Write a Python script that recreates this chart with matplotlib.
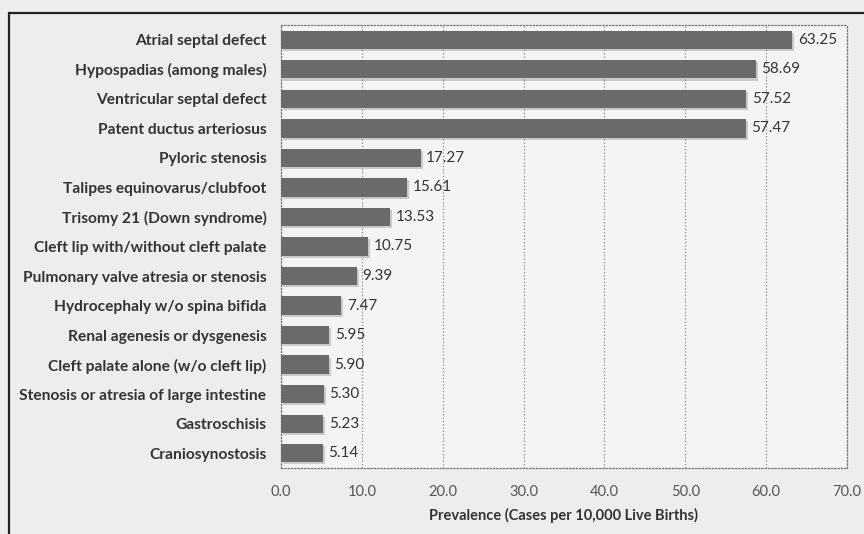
import matplotlib.pyplot as plt
import matplotlib.patheffects as pe
from matplotlib.patches import Rectangle

plt.rcParams['font.family'] = ['Lato', 'DejaVu Sans']

defects = [
    "Atrial septal defect",
    "Hypospadias (among males)",
    "Ventricular septal defect",
    "Patent ductus arteriosus",
    "Pyloric stenosis",
    "Talipes equinovarus/clubfoot",
    "Trisomy 21 (Down syndrome)",
    "Cleft lip with/without cleft palate",
    "Pulmonary valve atresia or stenosis",
    "Hydrocephaly w/o spina bifida",
    "Renal agenesis or dysgenesis",
    "Cleft palate alone (w/o cleft lip)",
    "Stenosis or atresia of large intestine",
    "Gastroschisis",
    "Craniosynostosis",
]
prevalence = [63.25, 58.69, 57.52, 57.47, 17.27, 15.61, 13.53, 10.75,
              9.39, 7.47, 5.95, 5.90, 5.30, 5.23, 5.14]
xticks = [0, 10, 20, 30, 40, 50, 60, 70]

fig = plt.figure(figsize=(8.64, 5.34), dpi=100, facecolor='#ededed')
ax = fig.add_axes([0.3252, 0.1236, 0.6551, 0.8296])
ax.set_facecolor('#f4f4f4')

# outer frame (only left and top edges visible in the scan)
fig.patches.append(Rectangle((9 / 864, -0.05), 1.1, 1 - 13 / 534 + 0.05,
                             transform=fig.transFigure, fill=False,
                             edgecolor='#222222', linewidth=1.6))

ypos = list(range(len(defects)))
bars = ax.barh(ypos, prevalence, height=0.62, color='#6a6a6a', zorder=3)
for b in bars:
    b.set_path_effects([pe.SimplePatchShadow(offset=(1.5, -1.5),
                                             shadow_rgbFace='#7a7a7a', alpha=0.35),
                        pe.Normal()])

for y, v in zip(ypos, prevalence):
    ax.annotate(f"{v:.2f}", (v, y), xytext=(4, 0), textcoords='offset points',
                va='center', ha='left', fontsize=11, color='#333333')

ax.set_xlim(0, 70)
ax.set_ylim(len(defects) - 0.5, -0.5)
ax.set_xticks(xticks)
ax.set_xticklabels([f"{t:.1f}" for t in xticks], fontsize=10.5, color='#555555')
ax.set_yticks(ypos)
ax.set_yticklabels(defects, fontsize=11.2, color='#333333', fontweight='bold')
ax.tick_params(axis='both', length=0)
ax.tick_params(axis='x', pad=12)
ax.tick_params(axis='y', pad=10.5)

ax.grid(axis='x', linestyle=':', color='#888888', linewidth=0.9, zorder=0)
for s in ax.spines.values():
    s.set_linestyle(':')
    s.set_color('#777777')
    s.set_linewidth(0.9)

ax.set_xlabel("Prevalence (Cases per 10,000 Live Births)", fontsize=10.5,
              color='#333333', fontweight='bold', labelpad=7)

fig.savefig('out.png', dpi=100, facecolor=fig.get_facecolor())
